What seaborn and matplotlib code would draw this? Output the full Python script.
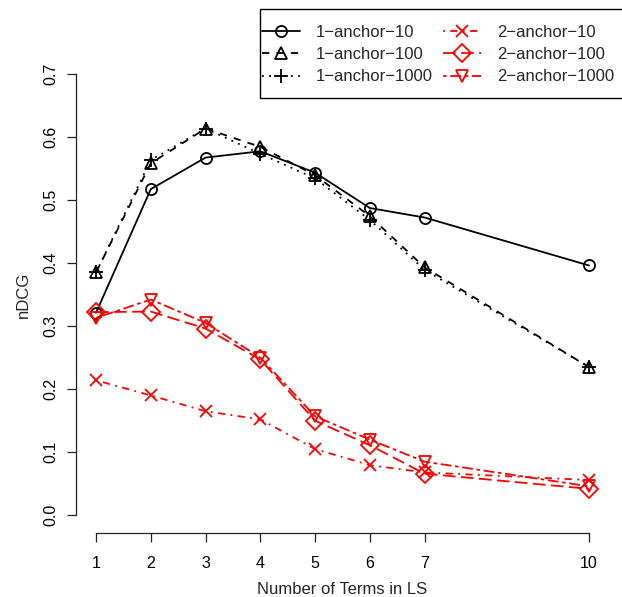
import matplotlib
matplotlib.use("Agg")
import matplotlib.pyplot as plt
import seaborn as sns
import numpy as np
from matplotlib.patches import Rectangle

# ---- data ----
terms = [1, 2, 3, 4, 5, 6, 7, 10]
a1_10 = [0.321, 0.517, 0.567, 0.577, 0.543, 0.487, 0.472, 0.396]
a1_100 = [0.385, 0.558, 0.613, 0.584, 0.539, 0.474, 0.393, 0.235]
a1_1000 = [0.385, 0.563, 0.613, 0.573, 0.534, 0.468, 0.389, 0.235]
a2_10 = [0.214, 0.190, 0.165, 0.152, 0.105, 0.0795, 0.068, 0.056]
a2_100 = [0.322, 0.323, 0.296, 0.247, 0.150, 0.111, 0.066, 0.042]
a2_1000 = [0.313, 0.342, 0.305, 0.250, 0.157, 0.120, 0.085, 0.046]
labels = ["1\u2212anchor\u221210", "1\u2212anchor\u2212100", "1\u2212anchor\u22121000",
          "2\u2212anchor\u221210", "2\u2212anchor\u2212100", "2\u2212anchor\u22121000"]
yticks = [0.0, 0.1, 0.2, 0.3, 0.4, 0.5, 0.6, 0.7]
ytick_labels = ["0.0", "0.1", "0.2", "0.3", "0.4", "0.5", "0.6", "0.7"]
xtick_labels = ["1", "2", "3", "4", "5", "6", "7", "10"]

sns.set_theme(style="ticks")
plt.rcParams["font.family"] = ["Liberation Sans", "DejaVu Sans"]
plt.rcParams["font.size"] = 12

W, H = 622, 597
fig = plt.figure(figsize=(W / 100, H / 100), dpi=100)
ax = fig.add_axes([76.3 / W, (H - 533) / H, (608.7 - 76.3) / W, (533 - 56) / H])

series = [a1_10, a1_100, a1_1000, a2_10, a2_100, a2_1000]
colors = ["black", "black", "black", "red", "red", "red"]
markers = ["o", "^", "+", "x", "D", "v"]
msizes = [8, 9, 10, 8, 9, 9]
styles = ["-", (0, (4, 4)), (0, (1, 3)), (0, (1, 3, 4, 3)), (0, (7, 3)), (0, (2, 2, 6, 2))]

lw = 1.3
handles = []
for vals, c, m, ms, ls, lab in zip(series, colors, markers, msizes, styles, labels):
    sns.lineplot(x=terms, y=vals, ax=ax, color=c, marker=m, markersize=ms,
                 markerfacecolor="none", markeredgecolor=c, markeredgewidth=1.3,
                 linewidth=lw, linestyle=ls, label=lab, legend=False)
    handles.append(ax.get_lines()[-1])

ax.set_xlim(0.64, 10.36)
ax.set_ylim(-0.028, 0.728)
for s in ["top", "right"]:
    ax.spines[s].set_visible(False)
ax.spines["left"].set_bounds(0, 0.7)
ax.spines["bottom"].set_bounds(1, 10)
for s in ["left", "bottom"]:
    ax.spines[s].set_color("#222222")
    ax.spines[s].set_linewidth(0.9)

ax.set_xticks(terms)
ax.set_xticklabels(xtick_labels)
ax.set_yticks(yticks)
ax.set_yticklabels(ytick_labels, rotation=90, va="center")
ax.tick_params(axis="both", direction="out", length=6.5, width=0.9, color="#222222",
               labelsize=11.5, labelcolor="black", bottom=True, left=True)
ax.tick_params(axis="x", pad=10)
ax.tick_params(axis="y", pad=6.5)

ax.set_xlabel("Number of Terms in LS", fontsize=12)
ax.set_ylabel("nDCG", fontsize=12)
ax.xaxis.set_label_coords(0.5, -(582 - 533) / 477)
ax.yaxis.set_label_coords((31 - 76.3) / 532.4, 0.5)

leg = fig.legend(handles, labels, ncol=2, loc="upper left",
                 bbox_to_anchor=(262 / W, 1 - 25 / H), frameon=False,
                 borderpad=0, borderaxespad=0, handlelength=2.28, handletextpad=0.96,
                 columnspacing=0.6, labelspacing=0.43, fontsize=12, numpoints=1)
fig.add_artist(Rectangle((260 / W, 1 - 98 / H), (640 - 260) / W, (98 - 9) / H,
                         transform=fig.transFigure, fill=False, edgecolor="black",
                         linewidth=1.0))

fig.savefig("out.png", dpi=100)
